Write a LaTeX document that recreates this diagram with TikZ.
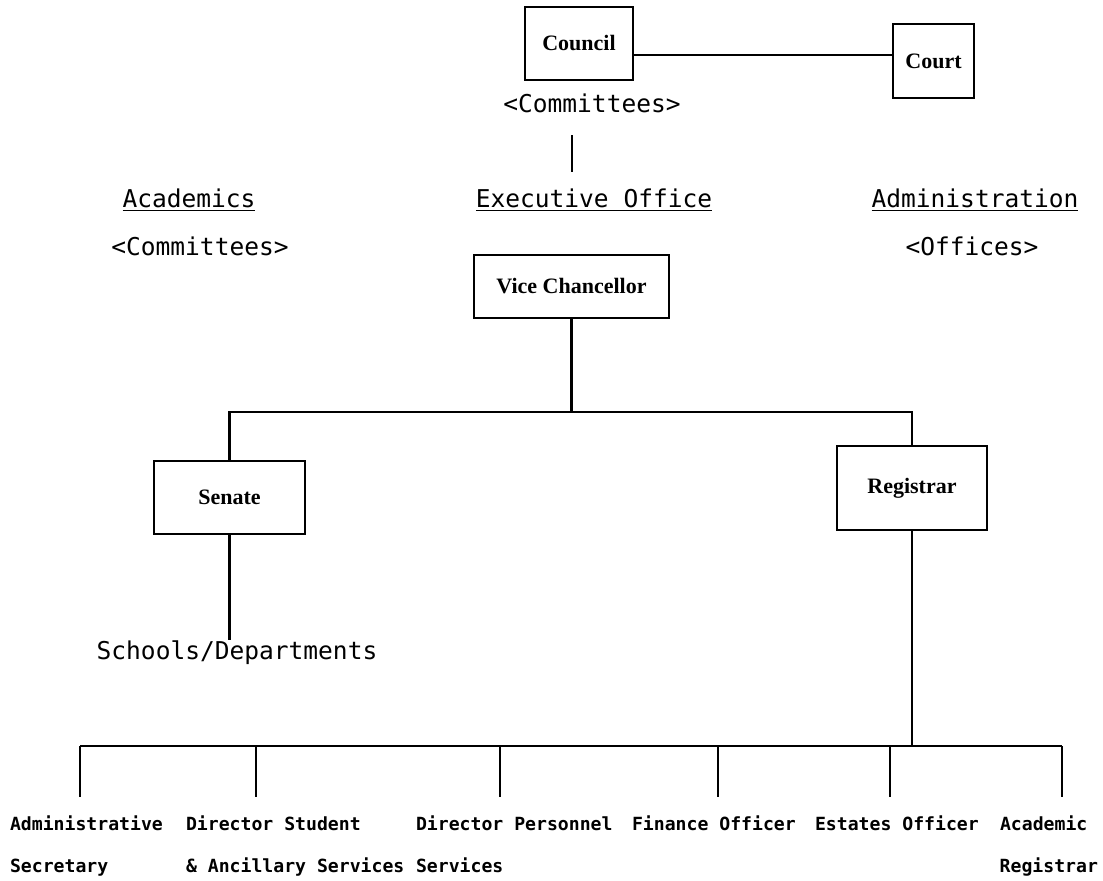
\documentclass[tikz,border=0pt]{standalone}
\usepackage{fontspec}
\setmainfont{Liberation Serif}
\newfontfamily\labelmono{DejaVu Sans Mono}
\begin{document}
\begin{tikzpicture}[x=0.75pt,y=-0.75pt,
  line width=1.6pt,
  unit/.style={draw, rectangle, inner sep=0pt, font=\fontsize{16.5}{19}\selectfont\bfseries},
  heading/.style={inner sep=1pt, font=\labelmono\fontsize{18.4}{22}\selectfont},
  office/.style={inner sep=0pt, anchor=base west, font=\labelmono\bfseries\fontsize{13.6}{16}\selectfont}]
\useasboundingbox (0,0) rectangle (1103,881);

% governing bodies
\node[unit, minimum width=108*0.75pt, minimum height=73*0.75pt] (council) at (579,43.5) {Council};
\node[unit, minimum width=81*0.75pt, minimum height=74*0.75pt] (court) at (933.5,61) {Court};
\node[heading] (ccomm) at (592,103) {<Committees>};

% column headings
\node[heading] (acad) at (189,200) {\underline{Academics}};
\node[heading] (exec) at (594,200) {\underline{Executive Office}};
\node[heading] (admin) at (975,200) {\underline{Administration}};
\node[heading] (acomm) at (200,246) {<Committees>};
\node[heading] (offices) at (972,246) {<Offices>};

% executive and the two arms
\node[unit, minimum width=195*0.75pt, minimum height=63*0.75pt] (vc) at (571.5,286.5) {Vice Chancellor};
\node[unit, minimum width=151*0.75pt, minimum height=73*0.75pt] (senate) at (229.5,497.5) {Senate};
\node[unit, minimum width=150*0.75pt, minimum height=84*0.75pt] (registrar) at (912,488) {Registrar};
\node[heading] (schools) at (237,653) {Schools/Departments};

% junctions
\coordinate (j1) at (571.5,412);
\coordinate (j2) at (912,746);
\coordinate (tickTop) at (572,135);
\coordinate (tickBot) at (572,172);

% offices under the registrar
\node[office] (o1) at (9,830) {Administrative};
\node[office] (o1b) at (9,872) {Secretary};
\node[office] (o2) at (185,830) {Director Student};
\node[office] (o2b) at (185,872) {\& Ancillary Services};
\node[office] (o3) at (415,830) {Director Personnel};
\node[office] (o3b) at (415,872) {Services};
\node[office] (o4) at (631,830) {Finance Officer};
\node[office] (o5) at (814,830) {Estates Officer};
\node[office] (o6) at (999,830) {Academic};
\node[office, anchor=base east] (o6b) at (1099,872) {Registrar};

\coordinate (d1) at (80,797);
\coordinate (d2) at (256,797);
\coordinate (d3) at (500,797);
\coordinate (d4) at (718,797);
\coordinate (d5) at (890,797);
\coordinate (d6) at (1062,797);

% connectors
\draw (council.east |- 0,55) -- (court.west |- 0,55);
\draw (tickTop) -- (tickBot);
\draw (vc.south) -- (j1);
\draw (senate.north) |- (j1) -| (registrar.north);
\draw (senate.south) -- (senate.south |- 0,640);
\draw (registrar.south) -- (j2);
\draw (d1 |- j2) -- (d6 |- j2);
\foreach \d in {d1,d2,d3,d4,d5,d6} \draw (\d |- j2) -- (\d);
\end{tikzpicture}
\end{document}
